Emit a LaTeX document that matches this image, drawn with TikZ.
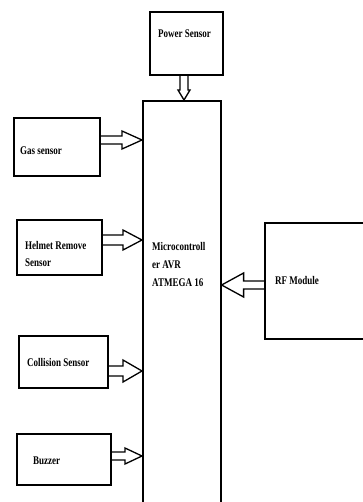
\documentclass[tikz,border=0pt]{standalone}
\usepackage{fontspec}
\usepackage{graphicx}
\setmainfont{Liberation Serif}
\usetikzlibrary{calc}
\newcommand\tallt[1]{\scalebox{1}[1.3]{\begin{tabular}[t]{@{}l@{}}#1\end{tabular}}}
% #1 start, #2 end, #3 shaft half, #4 head half, #5 head length
\newcommand\blockarrow[5]{%
  \draw[blkline] let \p1=(#1), \p2=(#2), \n1={veclen(\x2-\x1,\y2-\y1)},
      \n2={atan2(\y2-\y1,\x2-\x1)} in
    [shift={(\p1)}, rotate=\n2]
    (0pt,#3pt) -- (\n1-#5pt,#3pt) -- (\n1-#5pt,#4pt) -- (\n1,0pt)
    -- (\n1-#5pt,-#4pt) -- (\n1-#5pt,-#3pt) -- (0pt,-#3pt);}
\begin{document}
\begin{tikzpicture}[x=1pt,y=-1pt,
  box/.style={draw, line width=1.6pt, rectangle, anchor=north west, inner sep=0pt},
  lbl/.style={anchor=base west, inner sep=0pt, font=\fontsize{9}{13.5}\selectfont\bfseries},
  blkline/.style={draw, line width=1.3pt, line join=miter}]
\clip (0,0) rectangle (363,502);
\fill[white] (0,0) rectangle (363,502);
% boxes
\node[box, minimum width=73pt, minimum height=63pt] (power) at (149,11) {};
\node[box, minimum width=78pt, minimum height=420pt] (main) at (142,100) {};
\node[box, minimum width=86pt, minimum height=58pt] (gas) at (13,117) {};
\node[box, minimum width=85pt, minimum height=55pt] (helmet) at (16,219) {};
\node[box, minimum width=110pt, minimum height=116pt] (rf) at (264,222) {};
\node[box, minimum width=89pt, minimum height=52pt] (coll) at (18,335) {};
\node[box, minimum width=94pt, minimum height=51pt] (buzz) at (16,433) {};
% labels
\node[lbl] (tpower) at (158,38) {\tallt{Power Sensor}};
\node[lbl] (tgas) at (20,155) {\tallt{Gas sensor}};
\node[lbl] (thelmet) at (25,249) {\tallt{Helmet Remove\\Sensor}};
\node[lbl] (tmain) at (152,251) {\tallt{Microcontroll\\er AVR\\ATMEGA 16}};
\node[lbl] (trf) at (275,284) {\tallt{RF Module}};
\node[lbl] (tcoll) at (27,366) {\tallt{Collision Sensor}};
\node[lbl] (tbuzz) at (33,464) {\tallt{Buzzer}};
% connectors
\blockarrow{power.south -| 184,0}{main.north -| 184,0}{4}{6}{10}
\blockarrow{gas.east |- 0,140}{main.west |- 0,140}{4}{9}{20}
\blockarrow{helmet.east |- 0,240}{main.west |- 0,240}{5}{10}{19}
\blockarrow{rf.west |- 0,285}{main.east |- 0,285}{4}{12}{22}
\blockarrow{coll.east |- 0,371}{main.west |- 0,371}{5}{11}{19}
\blockarrow{buzz.east |- 0,456}{main.west |- 0,456}{4}{8}{17}
\end{tikzpicture}
\end{document}
